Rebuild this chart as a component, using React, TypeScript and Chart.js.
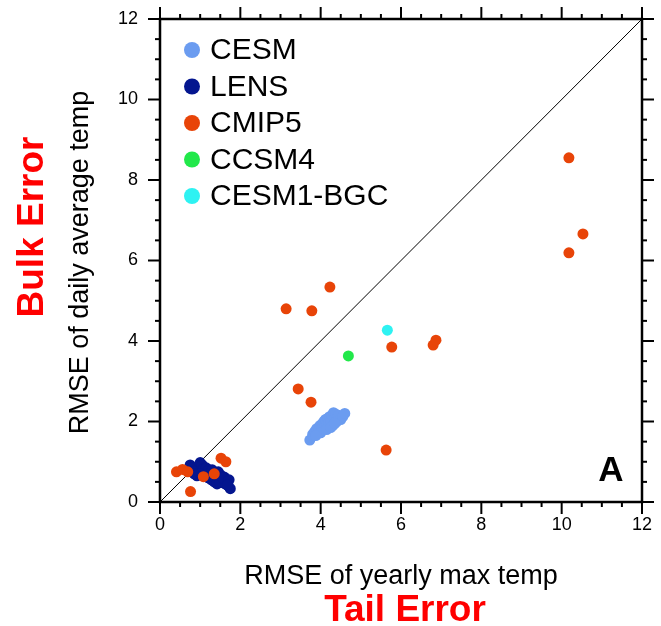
import { useEffect, useRef } from 'react';
import { Chart, registerables } from 'chart.js';

Chart.register(...registerables);

const FONT = '"Liberation Sans", Arial, Helvetica, sans-serif';

// Axis range and ticks
const AXIS_MIN = 0;
const AXIS_MAX = 12;
const MAJOR_STEP = 2;
const MINOR_STEP = 0.5;

// Series labels and colors
const seriesNames = ['CESM', 'LENS', 'CMIP5', 'CCSM4', 'CESM1-BGC'];
const seriesColors = ['#6b9cf0', '#04168f', '#e84408', '#22e84a', '#2ef2f2'];

// CESM (x = RMSE yearly max temp, y = RMSE daily average temp)
const cesmX = [3.73, 3.8, 3.85, 3.9, 3.95, 3.98, 4.02, 4.05, 4.08, 4.1, 4.12, 4.15, 4.18, 4.2, 4.22, 4.25, 4.28, 4.3, 4.32, 4.35, 4.38, 4.4, 4.42, 4.45, 4.5, 4.55, 4.6, 4.0, 4.15, 4.25, 3.88, 4.35];
const cesmY = [1.54, 1.68, 1.75, 1.82, 1.78, 1.9, 1.85, 1.95, 2.0, 1.88, 2.05, 1.92, 2.08, 1.98, 2.12, 2.02, 2.15, 1.9, 2.22, 2.05, 2.18, 2.0, 2.1, 2.15, 2.05, 2.12, 2.2, 1.72, 1.8, 1.85, 1.65, 1.95];

// LENS
const lensX = [0.75, 0.82, 0.9, 0.95, 1.0, 1.05, 1.08, 1.1, 1.15, 1.18, 1.2, 1.25, 1.28, 1.3, 1.35, 1.4, 1.42, 1.45, 1.5, 1.5, 1.55, 1.6, 1.62, 1.65, 1.7, 1.75, 0.92, 1.0, 1.12, 1.22, 1.38, 1.48, 1.56, 0.85, 1.3, 1.72, 1.68];
const lensY = [0.92, 0.85, 0.78, 0.72, 0.98, 0.92, 0.82, 0.75, 0.85, 0.68, 0.6, 0.72, 0.55, 0.65, 0.5, 0.6, 0.45, 0.75, 0.68, 0.55, 0.5, 0.62, 0.45, 0.55, 0.4, 0.33, 0.65, 0.7, 0.65, 0.8, 0.68, 0.48, 0.6, 0.7, 0.8, 0.55, 0.42];

// CMIP5
const cmip5X = [0.41, 0.56, 0.69, 0.76, 1.08, 1.35, 1.52, 1.64, 3.14, 3.78, 4.23, 3.44, 3.76, 5.63, 5.77, 6.8, 6.87, 10.18, 10.18, 10.53];
const cmip5Y = [0.75, 0.81, 0.75, 0.26, 0.63, 0.7, 1.09, 1.0, 4.8, 4.75, 5.34, 2.81, 2.48, 1.29, 3.85, 3.9, 4.02, 8.55, 6.19, 6.66];

// CCSM4
const ccsm4X = [4.69];
const ccsm4Y = [3.63];

// CESM1-BGC
const bgcX = [5.66];
const bgcY = [4.27];

const toPts = (xs: number[], ys: number[]) => xs.map((v, i) => ({ x: v, y: ys[i] }));

const decorPlugin = {
  id: 'decor',
  afterDraw(chart: any) {
    const { ctx, chartArea, scales } = chart;
    const { left, right, top, bottom } = chartArea;
    const xs = scales.x;
    const ys = scales.y;
    ctx.save();
    // frame
    ctx.strokeStyle = '#000';
    ctx.lineWidth = 2.5;
    ctx.strokeRect(left, top, right - left, bottom - top);
    // ticks (outward on all four sides)
    ctx.lineWidth = 2;
    const seg = (a: number, b: number, c: number, d: number) => {
      ctx.beginPath();
      ctx.moveTo(a, b);
      ctx.lineTo(c, d);
      ctx.stroke();
    };
    for (let v = AXIS_MIN; v <= AXIS_MAX + 1e-6; v += MINOR_STEP) {
      const r = v / MAJOR_STEP;
      const major = Math.abs(r - Math.round(r)) < 1e-6;
      const len = major ? 12 : 5;
      const px = xs.getPixelForValue(v);
      const py = ys.getPixelForValue(v);
      seg(px, bottom, px, bottom + len);
      seg(px, top, px, top - len);
      seg(left, py, left - len, py);
      seg(right, py, right + len, py);
    }
    // legend
    const lx = left + 32;
    const ly0 = top + 31;
    const step = 36.5;
    ctx.font = `30px ${FONT}`;
    ctx.textBaseline = 'middle';
    ctx.textAlign = 'left';
    seriesNames.forEach((name, i) => {
      const cy = ly0 + i * step;
      ctx.fillStyle = seriesColors[i];
      ctx.beginPath();
      ctx.arc(lx, cy, 8, 0, Math.PI * 2);
      ctx.fill();
      ctx.fillStyle = '#000';
      ctx.fillText(name, lx + 18, cy + 1);
    });
    // panel letter
    ctx.font = `bold 35px ${FONT}`;
    ctx.textAlign = 'center';
    ctx.fillText('A', right - 31, bottom - 31);
    // x titles
    const cx = (left + right) / 2;
    ctx.font = `27px ${FONT}`;
    ctx.fillStyle = '#000';
    ctx.fillText('RMSE of yearly max temp', cx, 577);
    ctx.font = `bold 37px ${FONT}`;
    ctx.fillStyle = '#ff0000';
    ctx.fillText('Tail Error', cx + 4, 611);
    // y titles
    ctx.save();
    ctx.translate(81, (top + bottom) / 2 + 2);
    ctx.rotate(-Math.PI / 2);
    ctx.font = `27px ${FONT}`;
    ctx.fillStyle = '#000';
    ctx.fillText('RMSE of daily average temp', 0, 0);
    ctx.restore();
    ctx.save();
    ctx.translate(33, 227);
    ctx.rotate(-Math.PI / 2);
    ctx.font = `bold 37px ${FONT}`;
    ctx.fillStyle = '#ff0000';
    ctx.fillText('Bulk Error', 0, 0);
    ctx.restore();
    ctx.restore();
  },
};

const noPad = (s: any) => {
  s.paddingTop = 0;
  s.paddingBottom = 0;
  s.paddingLeft = 0;
  s.paddingRight = 0;
};

export default function App() {
  const ref = useRef<HTMLCanvasElement | null>(null);
  useEffect(() => {
    if (!ref.current) return;
    const pointDs = (i: number, xs: number[], ys: number[], order: number) => ({
      label: seriesNames[i],
      data: toPts(xs, ys),
      backgroundColor: seriesColors[i],
      borderColor: seriesColors[i],
      borderWidth: 0,
      pointRadius: 5.5,
      pointHoverRadius: 5.5,
      order,
    });
    const chart = new Chart(ref.current, {
      type: 'scatter',
      data: {
        datasets: [
          {
            label: '1:1',
            data: [
              { x: AXIS_MIN, y: AXIS_MIN },
              { x: AXIS_MAX, y: AXIS_MAX },
            ],
            showLine: true,
            borderColor: '#000',
            borderWidth: 1,
            pointRadius: 0,
            order: 10,
          } as any,
          pointDs(0, cesmX, cesmY, 5),
          pointDs(1, lensX, lensY, 4),
          pointDs(2, cmip5X, cmip5Y, 3),
          pointDs(3, ccsm4X, ccsm4Y, 2),
          pointDs(4, bgcX, bgcY, 1),
        ],
      },
      options: {
        animation: false,
        responsive: false,
        maintainAspectRatio: false,
        layout: { padding: { left: 100, right: 19, top: 19, bottom: 64 } },
        plugins: { legend: { display: false }, tooltip: { enabled: false } },
        scales: {
          x: {
            type: 'linear',
            min: AXIS_MIN,
            max: AXIS_MAX,
            grid: { display: false, drawTicks: false },
            border: { display: false },
            ticks: {
              stepSize: MAJOR_STEP,
              padding: 12,
              color: '#000',
              font: { family: FONT, size: 18 },
            },
            afterFit: (s: any) => {
              s.height = 60;
              noPad(s);
            },
          },
          y: {
            type: 'linear',
            min: AXIS_MIN,
            max: AXIS_MAX,
            grid: { display: false, drawTicks: false },
            border: { display: false },
            ticks: {
              stepSize: MAJOR_STEP,
              padding: 22,
              color: '#000',
              font: { family: FONT, size: 18 },
            },
            afterFit: (s: any) => {
              s.width = 60;
              noPad(s);
            },
          },
        },
      },
      plugins: [decorPlugin],
    });
    return () => chart.destroy();
  }, []);
  return (
    <div style={{ position: 'absolute', left: 0, top: 0, width: 661, height: 626, background: '#fff' }}>
      <canvas ref={ref} width={661} height={626} style={{ width: 661, height: 626 }} />
    </div>
  );
}
